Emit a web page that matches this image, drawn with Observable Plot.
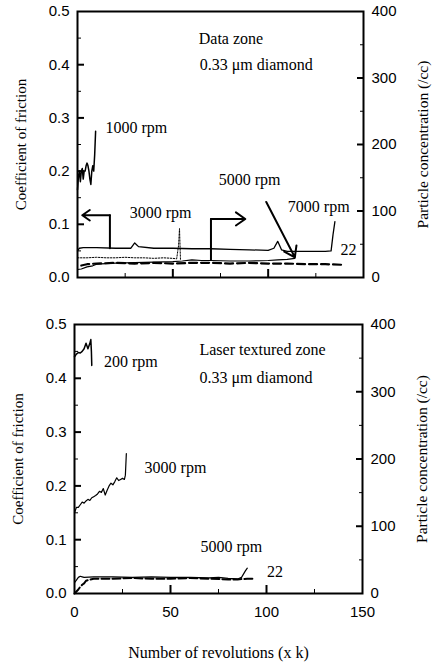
<!DOCTYPE html>
<html><head><meta charset="utf-8">
<script src="https://cdn.jsdelivr.net/npm/d3@7"></script>
<script src="https://cdn.jsdelivr.net/npm/@observablehq/plot@0.6"></script>
<style>
body{margin:0;background:#fff}
#c svg{display:block; font-family:"Liberation Serif","Times New Roman",serif !important;}
#c svg g[aria-label="text"], #c svg g[aria-label="text"] text {font-family:"Liberation Serif","Times New Roman",serif !important;}
#c svg g[aria-label$="tick label"], #c svg g[aria-label$="tick label"] text {font-family:"Liberation Sans",Arial,sans-serif !important;}
</style>
</head><body><div id="c"></div>
<script>
// 400 /cc on the right axis corresponds to 0.5 on the left axis
const CONC_PER_COF = 800;

// ---------- Top panel: Data zone ----------
const topRpm1000X = [0,0.5,1,1.5,2,2.5,3,3.5,4,4.5,5,5.5,6,6.5,7,7.5,8,8.5,9,9.5];
const topRpm1000Y = [0.165,0.19,0.2,0.18,0.2,0.205,0.185,0.2,0.2,0.21,0.215,0.21,0.2,0.185,0.175,0.2,0.21,0.2,0.23,0.275];

const topRpm7000X = [0,1,3,10,20,28,30,32,40,50,60,70,80,90,100,103,105,107,110,120,130,133,134,135];
const topRpm7000Y = [0.05,0.055,0.056,0.056,0.055,0.055,0.065,0.058,0.055,0.055,0.054,0.054,0.053,0.052,0.051,0.055,0.068,0.052,0.049,0.049,0.049,0.05,0.08,0.105];

const topRpm3000X = [0,5,10,15,20,25,30,35,40,45,50,52,53,53.5,54];
const topRpm3000Y = [0.037,0.037,0.038,0.037,0.037,0.038,0.037,0.037,0.036,0.037,0.036,0.035,0.06,0.092,0.034];

const topRpm5000X = [0,2,5,8,10,15,20,30,40,50,55,60,65,70,80,90,100,105,110,114];
const topRpm5000Y = [0.015,0.016,0.02,0.022,0.025,0.026,0.027,0.028,0.029,0.03,0.031,0.033,0.032,0.032,0.031,0.031,0.032,0.033,0.034,0.036];

const topConcX = [2,5,10,20,30,40,50,60,70,80,90,100,110,120,130,140];
const topConcY = [18,20,21,22,21,22,21,22,22,21,22,21,21,20,20,19];   // /cc

const topArrowLeft  = [[17,0.055],[17,0.117],[2.5,0.117]];
const topArrowRight = [[70,0.033],[70,0.110],[88,0.110]];
const topArrowDiag  = [[99,0.142],[114,0.038]];

const topLabels = ["Data zone","0.33 μm diamond","1000 rpm","3000 rpm","5000 rpm","7000 rpm","22"];
const topLabelX = [63.6,64.1,14.7,27.4,74.1,110.3,137.9];
const topLabelY = [0.448,0.40,0.281,0.122,0.183,0.132,0.051];

// ---------- Bottom panel: Laser textured zone ----------
const botRpm200X = [0,1,2,3,4,5,6,6.5,7,7.5,8,8.5,8.8,9];
const botRpm200Y = [0.44,0.445,0.448,0.447,0.45,0.455,0.465,0.46,0.455,0.46,0.465,0.472,0.45,0.424];

const botRpm3000X = [0,0.5,1,2,3,4,5,6,7,8,9,10,11,12,13,14,15,16,17,18,19,20,21,22,23,24,25,26,26.5,27];
const botRpm3000Y = [0.15,0.155,0.16,0.16,0.165,0.17,0.168,0.172,0.175,0.173,0.178,0.18,0.182,0.185,0.19,0.188,0.195,0.183,0.192,0.2,0.205,0.202,0.208,0.215,0.21,0.212,0.214,0.212,0.22,0.26];

const botRpm5000X = [0,1,2,3,4,5,10,20,30,40,50,60,70,75,80,85,87,88,89,90];
const botRpm5000Y = [0.02,0.025,0.03,0.032,0.031,0.03,0.031,0.031,0.03,0.031,0.03,0.03,0.029,0.03,0.028,0.027,0.03,0.036,0.042,0.047];

const botConcX = [0,1,2,3,4,5,6,10,20,30,40,50,60,70,80,85,90,93];
const botConcY = [0,3,6,10,13,15,19,22,22,23,22,22,23,22,21,21,22,22];   // /cc

const botLabels = ["200 rpm","Laser textured zone","0.33 μm diamond","3000 rpm","5000 rpm","22"];
const botLabelX = [15.3,65.1,65.1,36.5,65.6,100.3];
const botLabelY = [0.43,0.452,0.401,0.233,0.086,0.04];

// ---------- Axes ----------
const cofMajorTicks = [0,0.1,0.2,0.3,0.4,0.5];
const cofMinorTicks = [0.05,0.15,0.25,0.35,0.45];
const concMajorTicks = [0,100,200,300,400];
const concMinorTicks = [50,150,250,350];
const xTickLabels = [0,50,100,150];
const xMajorTicks = [50,100];
const xMinorTicks = [25,75,125];

function pts(xs, ys) { return xs.map((x, i) => ({x, y: ys[i]})); }
function conc(xs, ys) { return xs.map((x, i) => ({x, y: ys[i] / CONC_PER_COF})); }
function lab(t, xs, ys) { return t.map((text, i) => ({text, x: xs[i], y: ys[i]})); }
const toCof = v => v / CONC_PER_COF;

function axes(showXLabels) {
  const m = [
    Plot.axisY(cofMajorTicks.slice(1,-1), {anchor:"left", tickSize:-7, strokeWidth:2, tickFormat:()=>"", label:null}),
    Plot.axisY(cofMinorTicks, {anchor:"left", tickSize:-4, tickFormat:()=>"", label:null}),
    Plot.axisY(cofMajorTicks, {anchor:"left", tickSize:0, tickPadding:8, tickFormat:d=>d.toFixed(1), fontSize:15, label:null}),
    Plot.axisY(concMajorTicks.slice(1,-1).map(toCof), {anchor:"right", tickSize:-7, strokeWidth:2, tickFormat:()=>"", label:null}),
    Plot.axisY(concMinorTicks.map(toCof), {anchor:"right", tickSize:-4, tickFormat:()=>"", label:null}),
    Plot.axisY(concMajorTicks.map(toCof), {anchor:"right", tickSize:0, tickPadding:8, tickFormat:d=>String(Math.round(d*CONC_PER_COF)), fontSize:15, label:null}),
    Plot.axisX(xMajorTicks, {anchor:"bottom", tickSize:-8, strokeWidth:2, tickFormat:()=>"", label:null}),
    Plot.axisX(xMinorTicks, {anchor:"bottom", tickSize:-4, tickFormat:()=>"", label:null}),
  ];
  if (showXLabels) m.push(Plot.axisX(xTickLabels, {anchor:"bottom", tickSize:0, tickPadding:13, fontSize:15, label:null}));
  return m;
}

function titles() {
  return [
    Plot.text(["Coefficient of friction"], {text:d=>d, frameAnchor:"left", textAnchor:"middle", dx:-56, rotate:-90, fontSize:15}),
    Plot.text(["Particle concentration (/cc)"], {text:d=>d, frameAnchor:"right", textAnchor:"middle", dx:60, rotate:-90, fontSize:15.5}),
  ];
}

function arrowMark(segs) {
  return Plot.arrow(segs, {x1:d=>d[0][0], y1:d=>d[0][1], x2:d=>d[1][0], y2:d=>d[1][1], stroke:"#000", strokeWidth:2, headLength:9, headAngle:70});
}

const common = {
  width: 433,
  x: {domain:[0,150]},
  y: {domain:[0,0.5]},
  style: {background:"#fff", color:"#000"}
};

const topChart = Plot.plot({
  ...common,
  height: 300,
  marginLeft: 77, marginRight: 70, marginTop: 11, marginBottom: 23,
  marks: [
    ...axes(false),
    Plot.line(pts(topRpm7000X, topRpm7000Y), {x:"x", y:"y", stroke:"#000", strokeWidth:1.3}),
    Plot.line(pts(topRpm3000X, topRpm3000Y), {x:"x", y:"y", stroke:"#000", strokeWidth:1, strokeDasharray:"1.5,1.5"}),
    Plot.line(pts(topRpm5000X, topRpm5000Y), {x:"x", y:"y", stroke:"#000", strokeWidth:1.2}),
    Plot.line(conc(topConcX, topConcY), {x:"x", y:"y", stroke:"#000", strokeWidth:2.2, strokeDasharray:"8,4"}),
    Plot.line(pts(topRpm1000X, topRpm1000Y), {x:"x", y:"y", stroke:"#000", strokeWidth:1.5}),
    Plot.line(topArrowLeft.slice(0,2), {x:d=>d[0], y:d=>d[1], stroke:"#000", strokeWidth:2}),
    arrowMark([topArrowLeft.slice(1)]),
    Plot.line(topArrowRight.slice(0,2), {x:d=>d[0], y:d=>d[1], stroke:"#000", strokeWidth:2}),
    arrowMark([topArrowRight.slice(1)]),
    arrowMark([topArrowDiag]),
    Plot.text(lab(topLabels, topLabelX, topLabelY), {x:"x", y:"y", text:"text", textAnchor:"start", fontSize:16}),
    ...titles(),
    Plot.frame({stroke:"#000", strokeWidth:2})
  ]
});

const bottomChart = Plot.plot({
  ...common,
  height: 368,
  marginLeft: 74, marginRight: 71, marginTop: 24, marginBottom: 75,
  marks: [
    ...axes(true),
    Plot.line(pts(botRpm5000X, botRpm5000Y), {x:"x", y:"y", stroke:"#000", strokeWidth:1.2}),
    Plot.line(conc(botConcX, botConcY), {x:"x", y:"y", stroke:"#000", strokeWidth:2, strokeDasharray:"8,3"}),
    Plot.line(pts(botRpm3000X, botRpm3000Y), {x:"x", y:"y", stroke:"#000", strokeWidth:1.2}),
    Plot.line(pts(botRpm200X, botRpm200Y), {x:"x", y:"y", stroke:"#000", strokeWidth:1.5}),
    Plot.text(lab(botLabels, botLabelX, botLabelY), {x:"x", y:"y", text:"text", textAnchor:"start", fontSize:16}),
    ...titles(),
    Plot.text(["Number of revolutions (x k)"], {text:d=>d, frameAnchor:"bottom", textAnchor:"middle", dy:64, fontSize:16}),
    Plot.frame({stroke:"#000", strokeWidth:2})
  ]
});

document.getElementById("c").append(topChart, bottomChart);
</script>
</body></html>
